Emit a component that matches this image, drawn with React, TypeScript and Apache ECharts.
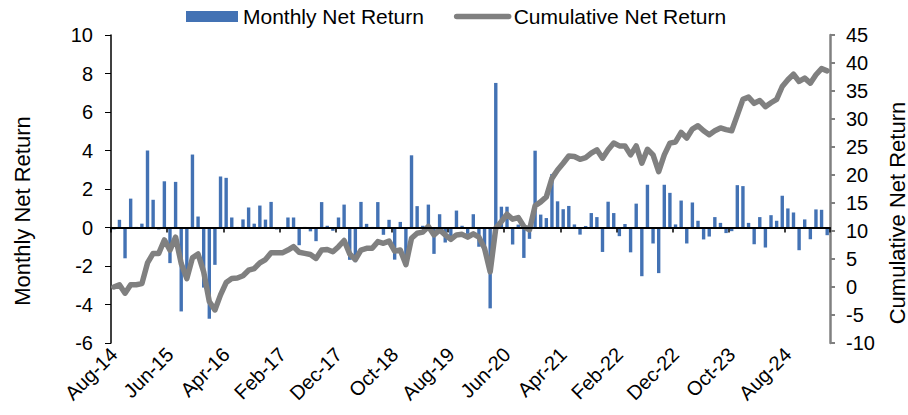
import React, { useEffect, useRef } from "react";
import * as echarts from "echarts";

const MONTH_NAMES = ["Jan", "Feb", "Mar", "Apr", "May", "Jun", "Jul", "Aug", "Sep", "Oct", "Nov", "Dec"];
const START_YEAR = 2014;
const START_MONTH = 7; // Aug

const MONTHLY_NET_RETURN = [
  -0.1, 0.4, -1.6, 1.5, 0.03, 0.2, 4.0, 1.44, -0.1, 2.4,
  -1.85, 2.37, -4.36, -2.6, 3.79, 0.57, -3.12, -4.74, -1.94, 2.65,
  2.58, 0.52, 0.03, 0.42, 1.04, 0.2, 1.14, 0.41, 1.33, -0.1,
  0.02, 0.52, 0.52, -0.92, 0.03, -0.2, -0.71, 1.32, 0.09, -0.17,
  0.52, 1.19, -1.68, -1.8, 1.33, 0.19, 0.03, 1.32, -0.38, 0.4,
  -1.67, 0.29, -1.98, 3.75, 1.11, 0.09, 1.19, -1.37, 0.69, -0.78,
  -0.5, 0.88, 0.09, -0.33, 0.69, -1.0, -1.19, -4.2, 7.51, 1.08,
  1.08, -0.88, 0.15, -1.58, -0.59, 3.99, 0.67, 0.49, 2.78, 1.36,
  0.95, 1.12, 0.16, -0.37, 0.08, 0.75, 0.54, -1.27, 1.34, 0.75,
  -0.45, 0.18, -1.29, 1.24, -2.53, 2.22, -0.83, -2.37, 2.22, 1.8,
  0.16, 1.4, -0.83, 1.3, 0.35, -0.62, -0.47, 0.54, 0.24, -0.29,
  -0.19, 2.2, 2.15, 0.24, -0.87, 0.54, -1.04, 0.64, 0.35, 1.65,
  0.99, 0.78, -1.18, 0.42, -0.61, 0.94, 0.92, -0.4,
];

const CUMULATIVE_NET_RETURN = [
  0.0, 0.4, -1.1, 0.4, 0.4, 0.6, 4.3, 6.0, 6.0, 8.4,
  6.6, 8.9, 4.2, 1.5, 5.2, 5.9, 2.7, -2.6, -4.1, -1.4,
  0.8, 1.5, 1.6, 2.0, 3.0, 3.3, 4.3, 4.9, 6.1, 6.1,
  6.1, 6.6, 7.2, 6.2, 6.0, 5.8, 5.1, 6.6, 6.7, 6.3,
  7.2, 8.3, 5.9, 4.9, 6.6, 6.9, 6.9, 8.1, 7.8, 8.2,
  6.4, 6.6, 4.0, 8.7, 9.6, 9.8, 10.8, 9.3, 10.2, 9.3,
  8.5, 9.3, 9.4, 8.9, 9.5, 8.9, 6.9, 2.7, 10.5, 11.7,
  13.0, 12.1, 12.4, 10.8, 10.2, 14.5, 15.2, 16.1, 19.4, 20.9,
  22.1, 23.4, 23.3, 22.8, 23.1, 23.9, 24.5, 23.0, 24.5, 25.7,
  25.2, 25.2, 23.6, 25.2, 22.1, 24.6, 23.6, 20.6, 23.6, 25.7,
  25.9, 27.6, 26.6, 28.2, 28.8, 27.9, 27.2, 27.9, 28.4, 28.1,
  27.9, 30.7, 33.5, 33.9, 32.8, 33.3, 32.2, 32.9, 33.5, 35.8,
  37.0, 38.0, 36.7, 37.3, 36.4, 37.9, 39.0, 38.6,
];

const CATEGORIES = MONTHLY_NET_RETURN.map((_, i) => {
  const k = START_MONTH + i;
  const m = k % 12;
  const y = START_YEAR + Math.floor(k / 12);
  return `${MONTH_NAMES[m]}-${String(y).slice(2)}`;
});

const LEFT_MIN = -6, LEFT_MAX = 10, LEFT_STEP = 2;
const RIGHT_MIN = -10, RIGHT_MAX = 45, RIGHT_STEP = 5;
const TICK_EVERY = 10; // months between x-axis tick marks / labels

const FONT = "'Liberation Sans', Arial, sans-serif";

const GRID_TOP = 35;
const GRID_BOTTOM_PX = 343;
const PLOT_H = GRID_BOTTOM_PX - GRID_TOP;
// distance from the bottom of the plot up to value 0 on the left axis
const ZERO_OFFSET = (PLOT_H * (0 - LEFT_MIN)) / (LEFT_MAX - LEFT_MIN);

export default function App() {
  const ref = useRef<HTMLDivElement>(null);
  useEffect(() => {
    if (!ref.current) return;
    const chart = echarts.init(ref.current, undefined, { renderer: "svg" });
    chart.setOption({
      animation: false,
      backgroundColor: "#ffffff",
      textStyle: { fontFamily: FONT },
      legend: {
        left: 186,
        top: 6,
        padding: 0,
        itemGap: 30,
        itemWidth: 52,
        itemHeight: 11,
        textStyle: { fontSize: 21, color: "#000", fontFamily: FONT },
        data: [
          { name: "Monthly Net Return", icon: "rect" },
          {
            name: "Cumulative Net Return",
            itemStyle: { opacity: 0 },
            lineStyle: { width: 5.5, color: "#808080", cap: "round" },
          },
        ],
      },
      grid: {
        left: 111,
        right: 78,
        top: GRID_TOP,
        bottom: 415 - GRID_BOTTOM_PX,
        containLabel: false,
        outerBoundsMode: "none",
      },
      xAxis: [
        {
          type: "category",
          data: CATEGORIES,
          boundaryGap: true,
          position: "bottom",
          axisLine: { show: false, onZero: false },
          axisTick: { show: false },
          axisLabel: {
            interval: TICK_EVERY - 1,
            rotate: 45,
            margin: 8,
            fontSize: 20,
            color: "#000",
            fontFamily: FONT,
            hideOverlap: false,
          },
          splitLine: { show: false },
        },
        {
          type: "value",
          min: 0,
          max: CATEGORIES.length,
          interval: TICK_EVERY,
          position: "bottom",
          offset: -ZERO_OFFSET,
          axisLine: { show: true, onZero: false, lineStyle: { color: "#000", width: 2 } },
          axisTick: { show: true, length: 5, lineStyle: { color: "#000", width: 1.5 } },
          axisLabel: { show: false },
          splitLine: { show: false },
          z: 5,
        },
      ],
      yAxis: [
        {
          type: "value",
          min: LEFT_MIN,
          max: LEFT_MAX,
          interval: LEFT_STEP,
          position: "left",
          axisLine: { show: true, onZero: false, lineStyle: { color: "#000", width: 1.5 } },
          axisTick: { show: true, length: 6, lineStyle: { color: "#000" } },
          axisLabel: { fontSize: 20, color: "#000", margin: 18, fontFamily: FONT },
          splitLine: { show: false },
        },
        {
          type: "value",
          min: RIGHT_MIN,
          max: RIGHT_MAX,
          interval: RIGHT_STEP,
          position: "right",
          axisLine: { show: true, onZero: false, lineStyle: { color: "#808080", width: 2.5 } },
          axisTick: { show: true, length: 5, lineStyle: { color: "#808080", width: 2 } },
          axisLabel: { fontSize: 20, color: "#000", margin: 16, fontFamily: FONT },
          splitLine: { show: false },
        },
      ],
      graphic: [
        {
          type: "text",
          x: 22,
          y: 211,
          rotation: Math.PI / 2,
          style: {
            text: "Monthly Net Return",
            font: `22px ${FONT}`,
            fill: "#000",
            align: "center",
            verticalAlign: "middle",
          },
        },
        {
          type: "text",
          x: 897,
          y: 213,
          rotation: Math.PI / 2,
          style: {
            text: "Cumulative Net Return",
            font: `22px ${FONT}`,
            fill: "#000",
            align: "center",
            verticalAlign: "middle",
          },
        },
      ],
      series: [
        {
          name: "Monthly Net Return",
          type: "bar",
          xAxisIndex: 0,
          yAxisIndex: 0,
          data: MONTHLY_NET_RETURN,
          barWidth: 3.4,
          itemStyle: { color: "#4372B4" },
          z: 2,
        },
        {
          name: "Cumulative Net Return",
          type: "line",
          xAxisIndex: 0,
          yAxisIndex: 1,
          data: CUMULATIVE_NET_RETURN,
          symbol: "none",
          smooth: false,
          lineStyle: { color: "#808080", width: 5.5, cap: "round", join: "round" },
          itemStyle: { color: "#808080" },
          z: 3,
        },
      ],
    });
    return () => chart.dispose();
  }, []);
  return (
    <div
      ref={ref}
      style={{ position: "absolute", left: 0, top: 0, width: 908, height: 415 }}
    />
  );
}
